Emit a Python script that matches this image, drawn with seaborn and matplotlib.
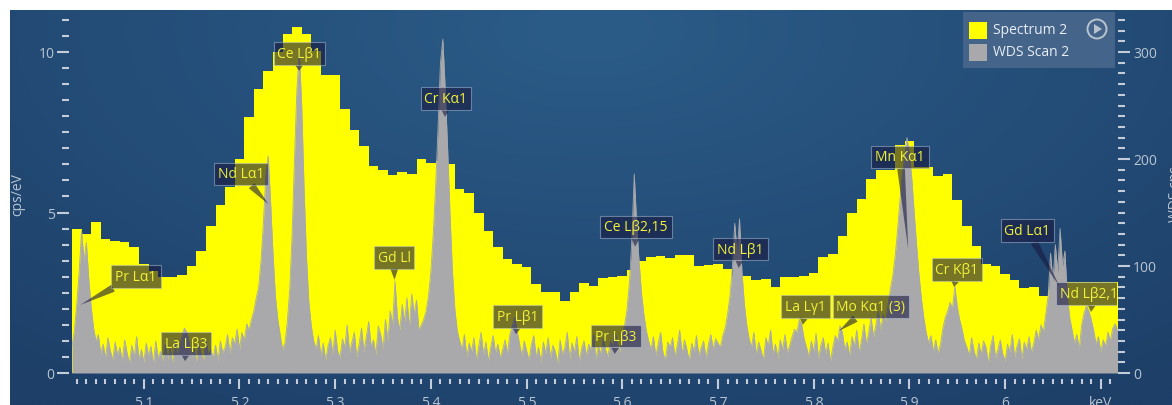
import numpy as np
import pandas as pd
import matplotlib
matplotlib.use("Agg")
import matplotlib.pyplot as plt
import seaborn as sns
from matplotlib.patches import Rectangle, Ellipse, Polygon

# EDS spectrum, cps/eV per 10 eV channel, first channel starts at 5.025 keV
eds_start_kev = 5.025
eds_channel_kev = 0.01
eds_cps_per_ev = [
    4.49, 4.32, 4.69, 4.17, 4.10, 4.07, 3.91, 3.40, 3.19, 2.98,
    2.98, 3.06, 3.32, 3.79, 4.57, 5.23, 5.78, 6.67, 7.99, 8.85,
    9.42, 10.0, 10.56, 10.77, 10.56, 10.04, 9.27, 9.27, 8.22, 7.58,
    7.08, 6.46, 6.32, 6.17, 6.27, 6.20, 6.67, 6.54, 6.60, 6.51,
    5.73, 5.61, 5.00, 4.43, 3.93, 3.55, 3.40, 3.29, 2.77, 2.53,
    2.51, 2.24, 2.51, 2.80, 2.72, 2.95, 2.98, 3.03, 3.20, 3.50,
    3.62, 3.65, 3.58, 3.68, 3.68, 3.32, 3.36, 3.40, 3.25, 3.03,
    3.03, 2.91, 2.93, 2.68, 2.98, 2.98, 3.03, 3.13, 3.62, 3.70,
    4.28, 4.98, 5.42, 6.03, 6.33, 6.33, 7.10, 7.23, 6.43, 6.43,
    6.15, 6.20, 5.38, 4.57, 3.97, 3.40, 3.34, 3.08, 2.90, 2.64,
    2.67, 2.41, 2.58, 2.56, 2.84, 2.84, 2.84, 2.84, 2.84, 2.84,
]

# WDS scan, cps, 2.5 eV steps from 5.025 keV
wds_start_kev = 5.025
wds_step_kev = 0.0025
wds_cps = [
    25, 40, 65, 95, 133, 105, 122, 88, 62, 42, 30, 36, 18, 27, 14, 33, 21, 12, 29, 17,
    24, 11, 31, 19, 9, 26, 15, 34, 13, 22, 10, 28, 16, 25, 8, 30, 14, 20, 11, 27,
    13, 23, 9, 29, 17, 26, 35, 42, 38, 28, 15, 24, 10, 27, 18, 12, 31, 16, 22, 14,
    26, 11, 30, 19, 24, 36, 18, 33, 27, 41, 22, 38, 30, 46, 40, 50, 58, 70, 80, 105,
    140, 185, 203, 160, 112, 72, 50, 36, 22, 28, 48, 78, 130, 200, 265, 300, 250, 172, 108, 66,
    44, 30, 22, 35, 16, 28, 12, 25, 33, 18, 40, 21, 14, 32, 24, 45, 19, 29, 38, 15,
    27, 42, 20, 34, 48, 25, 31, 17, 44, 36, 22, 50, 30, 58, 45, 86, 52, 40, 64, 48,
    70, 42, 74, 55, 68, 40, 45, 50, 58, 72, 95, 130, 175, 230, 290, 312, 265, 210, 148, 95,
    60, 40, 30, 22, 36, 15, 28, 20, 33, 12, 25, 38, 17, 29, 11, 24, 35, 19, 27, 14,
    22, 31, 18, 36, 44, 52, 40, 28, 16, 30, 21, 12, 27, 35, 15, 24, 10, 29, 18, 33,
    14, 26, 20, 9, 31, 17, 24, 38, 13, 28, 19, 34, 11, 23, 30, 16, 27, 21, 36, 13,
    25, 18, 32, 22, 15, 30, 26, 38, 28, 20, 35, 45, 60, 85, 125, 186, 140, 105, 75, 55,
    40, 30, 22, 34, 16, 27, 38, 19, 12, 29, 24, 33, 15, 26, 40, 18, 31, 22, 11, 28,
    20, 35, 16, 24, 30, 13, 27, 36, 22, 32, 28, 24, 35, 42, 55, 72, 98, 140, 112, 144,
    95, 65, 45, 32, 24, 38, 17, 29, 21, 12, 33, 25, 40, 18, 27, 14, 31, 22, 36, 19,
    26, 34, 41, 38, 50, 45, 32, 24, 15, 30, 20, 37, 13, 26, 33, 18, 28, 11, 24, 35,
    30, 44, 38, 22, 29, 16, 34, 25, 40, 19, 31, 46, 27, 38, 52, 33, 45, 58, 40, 55,
    48, 62, 78, 90, 108, 132, 160, 185, 202, 220, 205, 182, 150, 120, 92, 70, 52, 38, 28, 35,
    20, 31, 18, 27, 42, 52, 58, 66, 60, 81, 62, 50, 41, 30, 24, 16, 33, 21, 12, 28,
    17, 30, 24, 9, 26, 35, 14, 22, 31, 18, 11, 27, 20, 36, 15, 25, 32, 13, 29, 22,
    34, 19, 28, 40, 31, 45, 38, 55, 72, 112, 86, 120, 95, 135, 100, 114, 72, 52, 40, 28,
    36, 22, 45, 56, 63, 58, 50, 40, 27, 34, 20, 31, 25, 38, 30, 42, 46, 40,
]

line_names = ["Pr Lα1", "La Lβ3", "Nd Lα1", "Ce Lβ1", "Gd Ll", "Cr Kα1", "Pr Lβ1", "Pr Lβ3",
              "Ce Lβ2,15", "Nd Lβ1", "La Lγ1", "Mo Kα1 (3)", "Mn Kα1", "Cr Kβ1", "Gd Lα1", "Nd Lβ2,15"]
line_kev = [5.0337, 5.1431, 5.2302, 5.2622, 5.3620, 5.4147, 5.4889, 5.5920,
            5.6134, 5.7216, 5.7885, 5.8264, 5.8988, 5.9467, 6.0572, 6.0898]

x_ticks = [5.1, 5.2, 5.3, 5.4, 5.5, 5.6, 5.7, 5.8, 5.9, 6.0, 6.1]
x_tick_labels = ["5.1", "5.2", "5.3", "5.4", "5.5", "5.6", "5.7", "5.8", "5.9", "6", "keV"]
left_ticks = [0, 5, 10]
right_ticks = [0, 100, 200, 300]
legend_names = ["Spectrum 2", "WDS Scan 2"]

# label layout: box centre (keV, cps/eV) and pointer tip height (cps/eV)
box_kev = [5.0919, 5.1441, 5.2016, 5.2627, 5.3615, 5.4158, 5.4905, 5.5934,
           5.6143, 5.7235, 5.7915, 5.8599, 5.8902, 5.9498, 6.0234, 6.0915]
box_cps = [3.01, 0.92, 6.20, 9.95, 3.61, 8.55, 1.75, 1.15,
           4.55, 3.86, 2.06, 2.06, 6.73, 3.22, 4.44, 2.47]
tip_cps = [2.12, 0.37, 5.26, 9.41, 2.90, 7.98, 1.21, 0.59,
           3.93, 3.27, 1.50, 1.31, 3.86, 2.68, 2.68, 1.90]

# --- style ---------------------------------------------------------------
plt.rcParams["font.family"] = ["Open Sans", "DejaVu Sans"]
YELLOW = "#ffff00"
GREY = "#a9a9ac"
TICK_C = "#c3ccd8"
LAB_C = "#b9c4d1"
BOX_FC = (25 / 255, 25 / 255, 63 / 255, 0.6)
BOX_EC = (0.75, 0.82, 0.9, 0.45)
W, H = 1172, 406

fig = plt.figure(figsize=(W / 100, H / 100), dpi=100)
fig.patch.set_facecolor("white")

# dark blue gradient panel
bg = fig.add_axes([10 / W, 0, (W - 10) / W, (H - 11) / H], zorder=-5)
yy, xx = np.mgrid[0:1:200j, 0:1:400j]
t = np.clip(np.sqrt(((xx - 0.5) / 0.8) ** 2 + ((yy - 0.05) / 1.15) ** 2), 0, 1)[..., None]
inner = np.array([0x2b, 0x5c, 0x88]) / 255
outer = np.array([0x1d, 0x3f, 0x68]) / 255
bg.imshow(inner * (1 - t) + outer * t, aspect="auto", extent=[0, 1, 0, 1])
bg.axis("off")

ax = fig.add_axes([72 / W, 1 - 374 / H, 1045 / W, 359 / H])
ax.set_facecolor("none")

edges = [round(eds_start_kev + eds_channel_kev * i, 3) for i in range(len(eds_cps_per_ev) + 1)]
eds = pd.DataFrame({"kev": np.array(edges[:-1]) + eds_channel_kev / 2, "cps": eds_cps_per_ev})
sns.histplot(data=eds, x="kev", weights="cps", bins=edges, element="step", fill=True,
             color=YELLOW, alpha=1, linewidth=0, ax=ax)

ymax = 359 / 32.1
ax.set_xlim(5.025, 5.025 + 1045 / 957)
ax.set_ylim(0, ymax)

ax2 = ax.twinx()
wds = pd.DataFrame({"kev": wds_start_kev + wds_step_kev * np.arange(len(wds_cps)),
                    "cps": wds_cps})
ax2.fill_between(wds["kev"], 0, wds["cps"], color=GREY, linewidth=0)
sns.lineplot(data=wds, x="kev", y="cps", color=GREY, linewidth=0.6, ax=ax2)
ax2.set_ylim(0, ymax * 30)
ax2.set_xlim(ax.get_xlim())

for a in (ax, ax2):
    for s in a.spines.values():
        s.set_visible(False)
ax.spines["bottom"].set_position(("outward", 4))
ax.spines["left"].set_position(("outward", 2))
ax2.spines["right"].set_position(("outward", 1))

ax.set_xticks(x_ticks, labels=x_tick_labels)
ax.set_xticks(np.round(np.arange(5.03, 6.115, 0.01), 2), minor=True)
ax.set_yticks(left_ticks, labels=[str(v) for v in left_ticks])
ax.set_yticks(np.arange(0, 11.01, 0.5), minor=True)
ax2.set_yticks(right_ticks, labels=[str(v) for v in right_ticks])
ax2.set_yticks(np.arange(0, 331, 10), minor=True)

ax.tick_params(axis="x", which="major", length=7.5, width=1.5, color=TICK_C,
               labelcolor=LAB_C, labelsize=10, pad=4)
ax.tick_params(axis="x", which="minor", length=3.6, width=1.5, color=TICK_C)
ax.tick_params(axis="y", which="major", length=8.5, width=1.5, color=TICK_C,
               labelcolor=LAB_C, labelsize=10, pad=2)
ax.tick_params(axis="y", which="minor", length=5, width=1.5, color=TICK_C)
ax2.tick_params(axis="y", which="major", length=8.5, width=1.5, color=TICK_C,
                labelcolor=LAB_C, labelsize=10, pad=2)
ax2.tick_params(axis="y", which="minor", length=5, width=1.5, color=TICK_C)

ax.set_xlabel("")
ax.set_ylabel("cps/eV", color=LAB_C, fontsize=10, labelpad=10)
ax2.set_xlabel("")
ax2.set_ylabel("WDS cps", color=LAB_C, fontsize=10, labelpad=8)

# element line labels
for name, kev, bx, by, ty in zip(line_names, line_kev, box_kev, box_cps, tip_cps):
    ax2.annotate(name, xy=(kev, ty), xycoords=ax.transData,
                 xytext=(bx, by), textcoords=ax.transData,
                 ha="center", va="center", fontsize=10, color="#f2f23a",
                 bbox=dict(boxstyle="square,pad=0.28", fc=BOX_FC, ec=BOX_EC, lw=0.8),
                 arrowprops=dict(arrowstyle="wedge,tail_width=0.55,shrink_factor=0.5",
                                 fc=BOX_FC, ec="none", shrinkA=0, shrinkB=0),
                 clip_on=True, zorder=5)


# legend panel
def fx(px):
    return px / W


def fy(py):
    return 1 - py / H


fig.add_artist(Rectangle((fx(963), fy(69)), 152 / W, 56 / H, transform=fig.transFigure,
                         fc="#46668b", ec="none", alpha=0.95, zorder=10))
for name, col, yc in zip(legend_names, [YELLOW, GREY], [31, 53]):
    fig.add_artist(Rectangle((fx(969), fy(yc + 8.5)), 18 / W, 17 / H,
                             transform=fig.transFigure, fc=col, ec="none", zorder=11))
    fig.text(fx(993), fy(yc), name, color="#e9eef4", fontsize=10, va="center",
             ha="left", zorder=12)
fig.add_artist(Ellipse((fx(1097), fy(30)), 19 / W, 19 / H, transform=fig.transFigure,
                       fc="none", ec="#b7c3cf", lw=1.4, zorder=11))
fig.add_artist(Polygon([(fx(1094), fy(25)), (fx(1094), fy(35)), (fx(1102), fy(30))],
                       closed=True, transform=fig.transFigure, fc="#b7c3cf", ec="none",
                       zorder=11))

fig.savefig("out.png", dpi=100, facecolor="white")
